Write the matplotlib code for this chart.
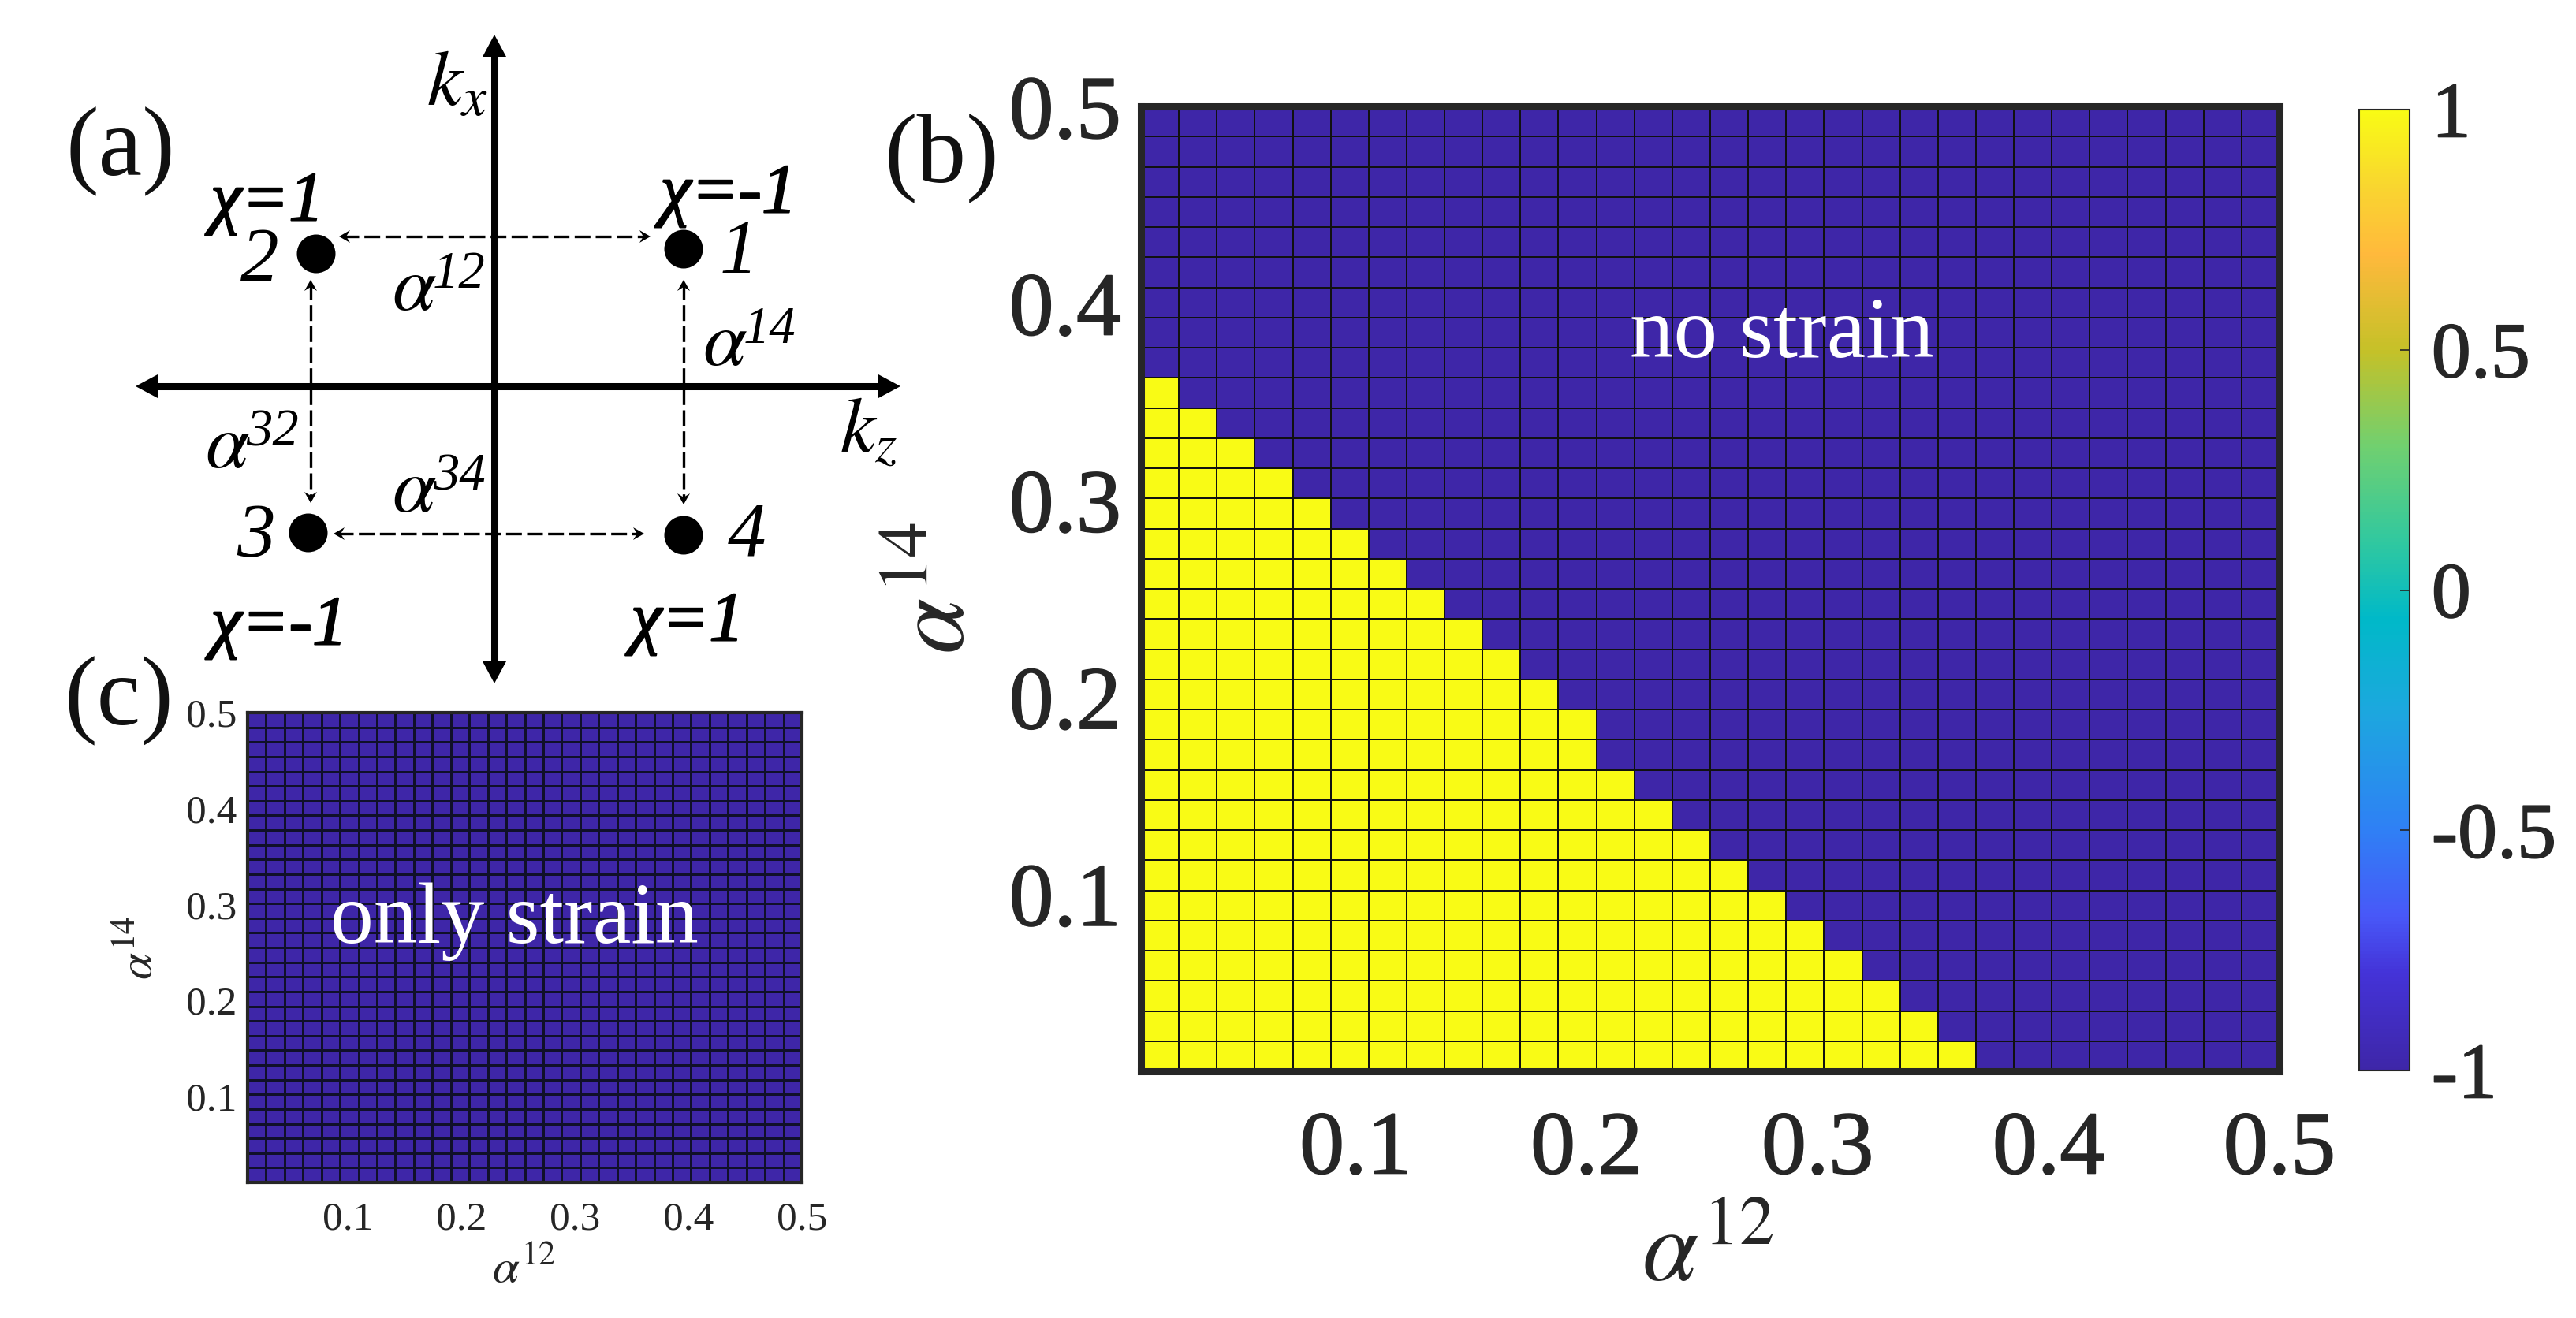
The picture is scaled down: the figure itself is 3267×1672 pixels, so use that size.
import matplotlib
matplotlib.use("Agg")
import numpy as np
import matplotlib.pyplot as plt
from matplotlib.colors import LinearSegmentedColormap
from matplotlib.patches import Polygon, Circle
import matplotlib.patheffects as pe

plt.rcParams['font.family'] = ['Liberation Serif', 'DejaVu Serif']
plt.rcParams['mathtext.fontset'] = 'stix'

# ---- data ----
n_cols = 30
n_rows = 32
alpha12_min_b = 0.007
alpha12_min_c = 0.012
alpha14_min = 0.01
alpha_max = 0.5
# number of yellow cells per row of panel (b), from the bottom row upward
yellow_counts = [22, 21, 20, 19, 18, 17, 16, 15, 14, 13, 12, 12, 11, 10, 9, 8, 7, 6, 5, 4, 3, 2, 1]
tick_values = [0.1, 0.2, 0.3, 0.4, 0.5]
tick_labels = ['0.1', '0.2', '0.3', '0.4', '0.5']
cbar_ticks = [-1, -0.5, 0, 0.5, 1]
cbar_labels = ['-1', '-0.5', '0', '0.5', '1']
parula_pos = [0, .10, .16, .25, .375, .47, .55, .65, .75, .85, .92, 1]
parula_col = ['#3E26A8', '#4433D8', '#4858F8', '#2F80F5', '#1CA8DE', '#00B9C8',
              '#30C8A0', '#70D070', '#C5C128', '#FFB93C', '#F9D530', '#F9FB15']

W, H = 3267, 1672
fig = plt.figure(figsize=(W / 100, H / 100), dpi=100, facecolor='white')
DARK = '#262626'
parula = LinearSegmentedColormap.from_list('parula', list(zip(parula_pos, parula_col)), N=256)


def px_axes(x0, y0, x1, y1, **kw):
    return fig.add_axes([x0 / W, 1 - y1 / H, (x1 - x0) / W, (y1 - y0) / H], **kw)


grid_b = -np.ones((n_rows, n_cols))
for r, c in enumerate(yellow_counts):
    grid_b[r, :c] = 1
grid_c = -np.ones((n_rows, n_cols))

ov = fig.add_axes([0, 0, 1, 1], zorder=5)
ov.set_xlim(0, W)
ov.set_ylim(H, 0)
ov.axis('off')


def heatmap(box, grid, xmin, lw, edge, spine, fs, padx, pady):
    ax = px_axes(*box)
    xe = np.linspace(xmin, alpha_max, n_cols + 1)
    ye = np.linspace(alpha14_min, alpha_max, n_rows + 1)
    m = ax.pcolormesh(xe, ye, grid, cmap=parula, vmin=-1, vmax=1,
                      edgecolors=edge, linewidth=lw)
    ax.set_xlim(xmin, alpha_max)
    ax.set_ylim(alpha14_min, alpha_max)
    ax.set_xticks(tick_values, tick_labels)
    ax.set_yticks(tick_values, tick_labels)
    ax.tick_params(length=0, labelsize=fs, colors=DARK)
    ax.tick_params(axis='x', pad=padx)
    ax.tick_params(axis='y', pad=pady)
    for s in ax.spines.values():
        s.set_linewidth(spine)
        s.set_color(DARK)
    return ax, m


ax_b, mesh = heatmap((1447, 135, 2891, 1359), grid_b, alpha12_min_b, 1.4, '#111111', 6.5, 82, 36, 18)
ax_c, _ = heatmap((314, 904, 1017, 1500), grid_c, alpha12_min_c, 0.85, '#10102a', 3.0, 37, 17, 10)


def axis_labels(ax, fs, xpos, ypos):
    ax.set_xlabel(r'$\alpha^{12}$', fontsize=fs, color=DARK, va='center', ha='center')
    ax.set_ylabel(r'$\alpha^{14}$', fontsize=fs, color=DARK, va='center', ha='center')
    ax.xaxis.set_label_coords(*xpos, transform=ov.transData)
    ax.yaxis.set_label_coords(*ypos, transform=ov.transData)


axis_labels(ax_b, 92, (2166, 1594), (1192, 746))
axis_labels(ax_c, 44, (665, 1612), (178, 1202))

cax = px_axes(2992, 139, 3056, 1358)
cb = fig.colorbar(mesh, cax=cax, ticks=cbar_ticks)
cb.ax.set_yticklabels(cbar_labels)
cb.ax.tick_params(direction='in', length=8.5, width=1.2, color=DARK, labelsize=72,
                  labelcolor=DARK, pad=20)
cb.outline.set_linewidth(1.5)
cb.outline.set_edgecolor(DARK)

heavy = [pe.withStroke(linewidth=1.2, foreground=DARK)]
for lab in ax_b.get_xticklabels() + ax_b.get_yticklabels() + cb.ax.get_yticklabels():
    lab.set_path_effects(heavy)

ov.text(2260, 453, 'no strain', color='white', fontsize=80, ha='center', va='baseline')
ov.text(652, 1196, 'only strain', color='white', fontsize=79, ha='center', va='baseline')
ov.text(153, 192, '(a)', fontsize=90, color='#111111', ha='center', va='center')
ov.text(1194, 200, '(b)', fontsize=90, color='#111111', ha='center', va='center')
ov.text(151, 889, '(c)', fontsize=90, color='#111111', ha='center', va='center')


# ---- panel (a) schematic ----
def head(tip, d, length, half, notch=0.0, z=7):
    tip = np.array(tip, float)
    d = np.array(d, float)
    n = np.array([-d[1], d[0]])
    pts = [tip, tip - d * length + n * half, tip - d * length * (1 - notch), tip - d * length - n * half]
    ov.add_patch(Polygon(pts, closed=True, fc='k', ec='none', zorder=z))


def solid(p, q):
    p, q = np.array(p, float), np.array(q, float)
    d = (q - p) / np.linalg.norm(q - p)
    a, b = p + d * 20, q - d * 20
    ov.plot([a[0], b[0]], [a[1], b[1]], color='k', lw=6.5, solid_capstyle='butt', zorder=6)
    head(q, d, 28, 15)
    head(p, -d, 28, 15)


def dashed(p, q):
    p, q = np.array(p, float), np.array(q, float)
    d = (q - p) / np.linalg.norm(q - p)
    a, b = p + d * 5, q - d * 5
    ov.plot([a[0], b[0]], [a[1], b[1]], color='k', lw=2.4, dashes=(6, 2), zorder=6)
    head(q, d, 14, 8, 0.35)
    head(p, -d, 14, 8, 0.35)


solid((627, 867), (627, 44))
solid((172, 490), (1142, 490))
dashed((430, 300), (825, 300))
dashed((423, 677), (817, 677))
dashed((394, 355), (394, 638))
dashed((867, 355), (867, 640))

for c in [(867, 316), (401, 322), (391, 676), (867, 679)]:
    ov.add_patch(Circle(c, 24.5, fc='k', ec='none', zorder=7))

for s, x, y in [('2', 329, 333), ('1', 937, 323), ('3', 324, 683), ('4', 947, 681)]:
    ov.text(x, y, s, fontsize=70, style='italic', color='k', ha='center', va='center')

chi = dict(fontsize=64, style='italic', color='k', ha='center', va='center',
           path_effects=[pe.withStroke(linewidth=1.5, foreground='k')])
ov.text(339, 258, '\u03c7=1', **chi)
ov.text(924, 248, '\u03c7=-1', **chi)
ov.text(354, 796, '\u03c7=-1', **chi)
ov.text(872, 791, '\u03c7=1', **chi)

for s, x, y in [('12', 497, 393), ('14', 891, 463), ('32', 260, 593), ('34', 497, 649)]:
    ov.text(x, y, r'$\alpha$', fontsize=72, color='k', ha='left', va='baseline')
    ov.text(x + 52, y - 28, s, fontsize=48, style='italic', color='k', ha='left', va='baseline')
ov.text(580, 110, r'$k_x$', fontsize=72, color='k', ha='center', va='center')
ov.text(1101, 549, r'$k_z$', fontsize=72, color='k', ha='center', va='center')

fig.savefig('out.png', dpi=100, facecolor='white')
